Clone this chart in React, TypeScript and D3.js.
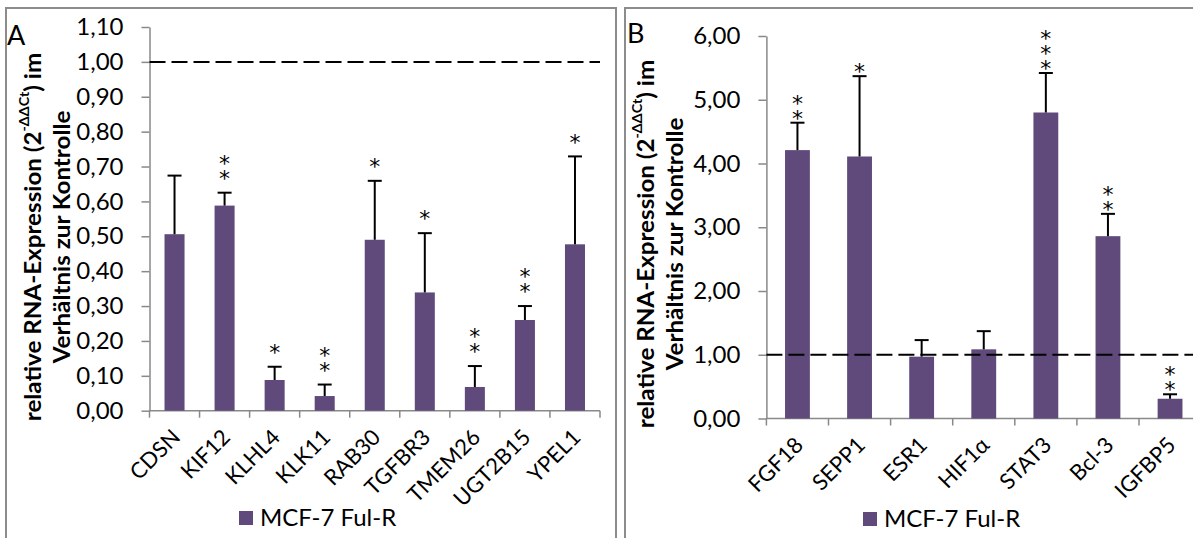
import React, { useEffect, useRef } from "react";
import * as d3 from "d3";

// Panel A: genes down-regulated in MCF-7 Ful-R
const genesA = ["CDSN", "KIF12", "KLHL4", "KLK11", "RAB30", "TGFBR3", "TMEM26", "UGT2B15", "YPEL1"];
const valuesA = [0.506, 0.588, 0.088, 0.042, 0.49, 0.339, 0.068, 0.26, 0.477];
const errorsA = [0.168, 0.037, 0.038, 0.033, 0.169, 0.17, 0.06, 0.04, 0.252];
const starsA = ["", "**", "*", "**", "*", "*", "**", "**", "*"];
const ticksA = [0, 0.1, 0.2, 0.3, 0.4, 0.5, 0.6, 0.7, 0.8, 0.9, 1.0, 1.1];

// Panel B
const genesB = ["FGF18", "SEPP1", "ESR1", "HIF1α", "STAT3", "Bcl-3", "IGFBP5"];
const valuesB = [4.21, 4.11, 0.97, 1.085, 4.8, 2.86, 0.31];
const errorsB = [0.43, 1.26, 0.26, 0.285, 0.62, 0.35, 0.07];
const starsB = ["**", "*", "", "", "***", "**", "**"];
const ticksB = [0, 1, 2, 3, 4, 5, 6];

const seriesName = "MCF-7 Ful-R";

const FONT = "Lato, 'Open Sans', sans-serif";
const STAR_FONT = "'DejaVu Sans', sans-serif";
const STAR_SIZE = 22;
const BAR = "#5F4A7B";
const AXIS = "#898989";
const FRAME = "#8c8c8c";

interface PanelOpts {
  genes: string[];
  values: number[];
  errors: number[];
  stars: string[];
  ticks: number[];
  yMax: number;
  left: number;
  right: number;
  top: number;
  bottom: number;
  box: [number, number];
  letter: string;
  letterPos: [number, number];
  titleX: [number, number];
  titleY: number;
  legend: [number, number];
  starGap: number;
}

function drawPanel(svg: d3.Selection<SVGSVGElement, unknown, null, undefined>, o: PanelOpts) {
  const g = svg.append("g");

  // panel frame
  g.append("rect")
    .attr("x", o.box[0])
    .attr("y", o.box[1])
    .attr("width", 610)
    .attr("height", 600)
    .attr("fill", "none")
    .attr("stroke", FRAME)
    .attr("stroke-width", 2);

  const x = d3
    .scaleBand<string>()
    .domain(o.genes)
    .range([o.left, o.right])
    .paddingInner(0.6)
    .paddingOuter(0.3);

  const y = d3.scaleLinear().domain([0, o.yMax]).range([o.bottom, o.top]);
  const fmt = (d: number) => d3.format(".2f")(d).replace(".", ",");

  // y axis
  const yAxis = g
    .append("g")
    .attr("transform", `translate(${o.left},0)`)
    .call(d3.axisLeft(y).tickValues(o.ticks).tickSize(8).tickSizeOuter(0).tickPadding(18).tickFormat((d) => fmt(+d)));
  yAxis.select(".domain").attr("stroke", AXIS).attr("stroke-width", 1.5);
  yAxis.selectAll(".tick line").attr("stroke", AXIS).attr("stroke-width", 1.5);
  yAxis
    .selectAll(".tick text")
    .attr("fill", "#000")
    .style("font-family", FONT)
    .style("font-size", "24px");

  // x axis with ticks between categories
  const step = x.step();
  g.append("line")
    .attr("x1", o.left)
    .attr("x2", o.right)
    .attr("y1", o.bottom)
    .attr("y2", o.bottom)
    .attr("stroke", AXIS)
    .attr("stroke-width", 1.5);
  g.selectAll(".xtick")
    .data(d3.range(o.genes.length + 1))
    .join("line")
    .attr("x1", (i) => o.left + i * step)
    .attr("x2", (i) => o.left + i * step)
    .attr("y1", o.bottom)
    .attr("y2", o.bottom + 7)
    .attr("stroke", AXIS)
    .attr("stroke-width", 1.5);

  const cx = (gene: string) => (x(gene) as number) + x.bandwidth() / 2;

  g.selectAll(".xlabel")
    .data(o.genes)
    .join("text")
    .attr("transform", (d) => `translate(${cx(d) + 7},${o.bottom + 28}) rotate(-45)`)
    .attr("text-anchor", "end")
    .style("font-family", FONT)
    .style("font-size", "22px")
    .attr("fill", "#000")
    .text((d) => d);

  // bars
  g.selectAll(".bar")
    .data(o.genes)
    .join("rect")
    .attr("x", (d) => x(d) as number)
    .attr("y", (_, i) => y(o.values[i]))
    .attr("width", x.bandwidth())
    .attr("height", (_, i) => o.bottom - y(o.values[i]))
    .attr("fill", BAR);

  // error bars (upper only)
  o.genes.forEach((gene, i) => {
    const c = cx(gene);
    const yTop = y(o.values[i] + o.errors[i]);
    g.append("line")
      .attr("x1", c)
      .attr("x2", c)
      .attr("y1", y(o.values[i]))
      .attr("y2", yTop)
      .attr("stroke", "#000")
      .attr("stroke-width", 2);
    g.append("line")
      .attr("x1", c - 7)
      .attr("x2", c + 7)
      .attr("y1", yTop)
      .attr("y2", yTop)
      .attr("stroke", "#000")
      .attr("stroke-width", 2);

    // significance stars, stacked one above the other
    o.stars[i].split("").forEach((s, k) => {
      g.append("text")
        .attr("x", c)
        .attr("y", yTop - o.starGap + 0.6 * STAR_SIZE - k * 15)
        .attr("text-anchor", "middle")
        .style("font-family", STAR_FONT)
        .style("font-size", `${STAR_SIZE}px`)
        .attr("fill", "#000")
        .text(s);
    });
  });

  // reference line at 1
  g.append("line")
    .attr("x1", o.left)
    .attr("x2", o.right)
    .attr("y1", y(1))
    .attr("y2", y(1))
    .attr("stroke", "#000")
    .attr("stroke-width", 2)
    .attr("stroke-dasharray", "16,6");

  // panel letter
  g.append("text")
    .attr("x", o.letterPos[0])
    .attr("y", o.letterPos[1])
    .style("font-family", FONT)
    .style("font-size", "27px")
    .attr("fill", "#000")
    .text(o.letter);

  // y title, two lines (stretched along the text a little, like the original)
  const t1 = g
    .append("text")
    .attr("transform", `translate(${o.titleX[0]},${o.titleY}) rotate(-90) scale(1.1,1)`)
    .attr("text-anchor", "middle")
    .attr("dominant-baseline", "central")
    .style("font-family", FONT)
    .style("font-size", "22px")
    .style("font-weight", "bold")
    .attr("fill", "#000");
  t1.append("tspan").text("relative RNA-Expression (2");
  t1.append("tspan").attr("dy", -8).style("font-size", "13px").text("-ΔΔCt");
  t1.append("tspan").attr("dy", 8).text(") im");

  g.append("text")
    .attr("transform", `translate(${o.titleX[1]},${o.titleY}) rotate(-90) scale(1.1,1)`)
    .attr("text-anchor", "middle")
    .attr("dominant-baseline", "central")
    .style("font-family", FONT)
    .style("font-size", "22px")
    .style("font-weight", "bold")
    .attr("fill", "#000")
    .text("Verhältnis zur Kontrolle");

  // legend
  g.append("rect")
    .attr("x", o.legend[0])
    .attr("y", o.legend[1])
    .attr("width", 14)
    .attr("height", 14)
    .attr("fill", BAR);
  g.append("text")
    .attr("x", o.legend[0] + 21)
    .attr("y", o.legend[1] + 15)
    .style("font-family", FONT)
    .style("font-size", "24px")
    .attr("fill", "#000")
    .text(seriesName);
}

export default function App() {
  const ref = useRef<SVGSVGElement>(null);

  useEffect(() => {
    if (!ref.current) return;
    const svg = d3.select(ref.current);
    svg.selectAll("*").remove();

    drawPanel(svg, {
      genes: genesA,
      values: valuesA,
      errors: errorsA,
      stars: starsA,
      ticks: ticksA,
      yMax: 1.1,
      left: 149.5,
      right: 600,
      top: 27,
      bottom: 410.7,
      box: [6, 8],
      letter: "A",
      letterPos: [7, 45],
      titleX: [32, 61],
      titleY: 237,
      legend: [239, 511],
      starGap: 20,
    });

    drawPanel(svg, {
      genes: genesB,
      values: valuesB,
      errors: errorsB,
      stars: starsB,
      ticks: ticksB,
      yMax: 6,
      left: 766.4,
      right: 766.4 + 7 * 62.1,
      top: 36,
      bottom: 418.5,
      box: [625, 8],
      letter: "B",
      letterPos: [627, 43],
      titleX: [645, 674],
      titleY: 244,
      legend: [863, 512],
      starGap: 10,
    });
  }, []);

  return (
    <svg
      ref={ref}
      width={1193}
      height={538}
      style={{ position: "absolute", left: 0, top: 0, background: "#fff" }}
    />
  );
}
